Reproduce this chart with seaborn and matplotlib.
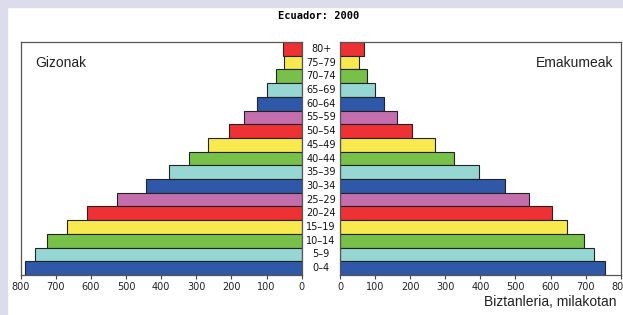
import pandas as pd
import matplotlib.pyplot as plt
import seaborn as sns
from matplotlib.patches import Rectangle

# Age groups, from youngest to oldest
ages = ["0–4", "5–9", "10–14", "15–19", "20–24", "25–29", "30–34", "35–39",
        "40–44", "45–49", "50–54", "55–59", "60–64", "65–69", "70–74", "75–79", "80+"]
# Population in thousands
men = [788, 758, 725, 669, 612, 525, 443, 377, 320, 267, 207, 165, 126, 98, 73, 50, 52]
women = [756, 725, 696, 648, 605, 538, 469, 397, 326, 270, 204, 163, 126, 100, 76, 55, 67]
ticks = [0, 100, 200, 300, 400, 500, 600, 700, 800]

cycle = ["#2f58a8", "#96d7d3", "#77c14b", "#f8e94f", "#ee3134", "#c46fad"]
colors = {a: cycle[i % 6] for i, a in enumerate(ages)}

df = pd.DataFrame({"age": ages, "men": men, "women": women})
order = ages[::-1]  # oldest on top

plt.rcParams["font.family"] = ["DejaVu Sans"]
fig = plt.figure(figsize=(6.23, 3.15), dpi=100)
fig.patch.set_facecolor("white")
# lavender page frame on top and left
fig.patches.append(Rectangle((0, 1 - 7 / 315), 1, 7 / 315, transform=fig.transFigure,
                             color="#dcdcec", zorder=0))
fig.patches.append(Rectangle((0, 0), 7 / 623, 1, transform=fig.transFigure,
                             color="#dcdcec", zorder=0))

axl = fig.add_axes([20.7 / 623, 40 / 315, 281 / 623, 233 / 315])
axr = fig.add_axes([340 / 623, 40 / 315, 280.7 / 623, 233 / 315])

for ax, col in [(axl, "men"), (axr, "women")]:
    sns.barplot(data=df, x=col, y="age", hue="age", order=order, hue_order=order,
                palette=colors, orient="h", width=1.0, legend=False, saturation=1,
                edgecolor="#222222", linewidth=0.8, ax=ax)
    ax.set_ylim(16.5, -0.5)
    ax.set_yticks([])
    ax.set_xticks(ticks)
    ax.set_xticklabels([str(t) for t in ticks], fontsize=7, color="#222222")
    ax.tick_params(axis="x", length=3, width=0.8, color="#444444", pad=2)
    ax.set_xlabel("")
    ax.set_ylabel("")
    for s in ax.spines.values():
        s.set_color("#555555")
        s.set_linewidth(0.9)

axl.set_xlim(800, 0)
axr.set_xlim(0, 800)

# age labels between the two halves
for i, a in enumerate(order):
    y = 1 - (i + 0.5) / 17
    fig.text(321 / 623, 40 / 315 + y * 233 / 315, a, ha="center", va="center",
             fontsize=7, color="#111111")

axl.text(0.05, 0.91, "Gizonak", transform=axl.transAxes, ha="left", va="center",
         fontsize=10, family="Liberation Sans", color="#222222")
axr.text(0.975, 0.91, "Emakumeak", transform=axr.transAxes, ha="right", va="center",
         fontsize=10, family="Liberation Sans", color="#222222")

fig.text(319 / 623, 1 - 16 / 315, "Ecuador: 2000", ha="center", va="center",
         fontsize=7.5, fontweight="bold", family="DejaVu Sans Mono")
fig.text(617 / 623, 1 - 302 / 315, "Biztanleria, milakotan", ha="right", va="center",
         fontsize=10, family="Liberation Sans", color="#222222")

plt.savefig("out.png", dpi=100)
